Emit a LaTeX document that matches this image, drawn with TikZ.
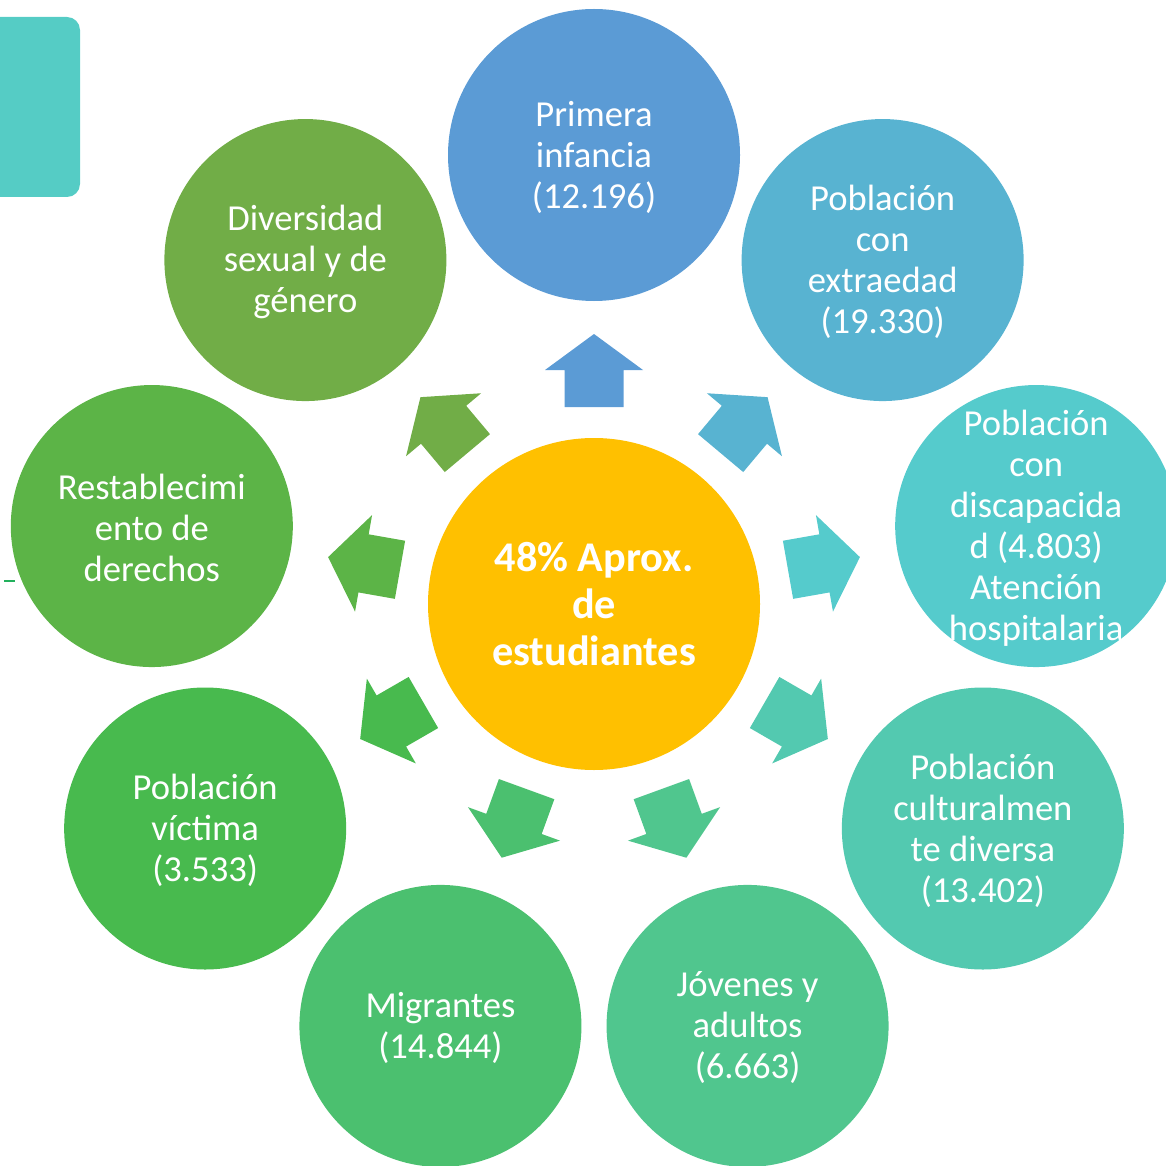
\documentclass[tikz,border=0pt]{standalone}
\usepackage{fontspec}
\setmainfont{Carlito}
\definecolor{cA}{HTML}{5B9BD5}
\definecolor{cB}{HTML}{58B3D1}
\definecolor{cC}{HTML}{55CBCC}
\definecolor{cD}{HTML}{53C9B0}
\definecolor{cE}{HTML}{50C68E}
\definecolor{cF}{HTML}{4BC06F}
\definecolor{cG}{HTML}{48BA4E}
\definecolor{cH}{HTML}{5CB447}
\definecolor{cI}{HTML}{71AD47}
\definecolor{cCenter}{HTML}{FFC000}
\definecolor{cTeal}{HTML}{55CCC5}
\definecolor{cDash}{HTML}{22B05C}
\begin{document}
\begin{tikzpicture}[x=1pt,y=1pt,
  bubble/.style={circle, fill=#1, inner sep=0pt, outer sep=0pt},
  bubbletext/.style={text=white, align=center, inner sep=0pt, yshift=-2pt, font=\fontsize{36.6}{41}\selectfont},
  centertext/.style={text=white, align=center, inner sep=0pt, font=\bfseries\fontsize{42.3}{47}\selectfont},
]
\useasboundingbox (0,0) rectangle (1166,-1166);
\clip (0,0) rectangle (1166,-1166);
\fill[cTeal, rounded corners=13pt] (-30,-17) rectangle (80,-197);
\draw[cDash, line width=2.4pt] (4,-581) -- (15,-581);
\begin{scope}[shift={(594,-604)}]
  \node[bubble=cCenter, minimum size=332pt] (ctr) at (0,0) {};
  \node[centertext] (ctrtext) at (ctr) {48\% Aprox.\\de\\estudiantes};
  \foreach \ang/\col/\sz/\nm/\txt in {
      90/cA/292/cA/{Primera\\infancia\\(12.196)},
      50/cB/282/cB/{Población\\con\\extraedad\\(19.330)},
      10/cC/282/cC/{Población\\con\\discapacida\\d (4.803)\\Atención\\hospitalaria},
      -30/cD/282/cD/{Población\\culturalmen\\te diversa\\(13.402)},
      -70/cE/282/cE/{Jóvenes y\\adultos\\(6.663)},
      -110/cF/282/cF/{Migrantes\\(14.844)},
      -150/cG/282/cG/{Población\\víctima\\(3.533)},
      170/cH/282/cH/{Restablecimi\\ento de\\derechos},
      130/cI/282/cI/{Diversidad\\sexual y de\\género}} {
    \fill[\col, rotate=\ang] (197,29.5) -- (234,29.5) -- (234,49) -- (270,0)
        -- (234,-49) -- (234,-29.5) -- (197,-29.5) -- cycle;
    \node[bubble=\col, minimum size=\sz pt] (n\nm) at (\ang:449pt) {};
    \node[bubbletext] (t\nm) at (n\nm) {\txt};
  }
\end{scope}
\end{tikzpicture}
\end{document}
